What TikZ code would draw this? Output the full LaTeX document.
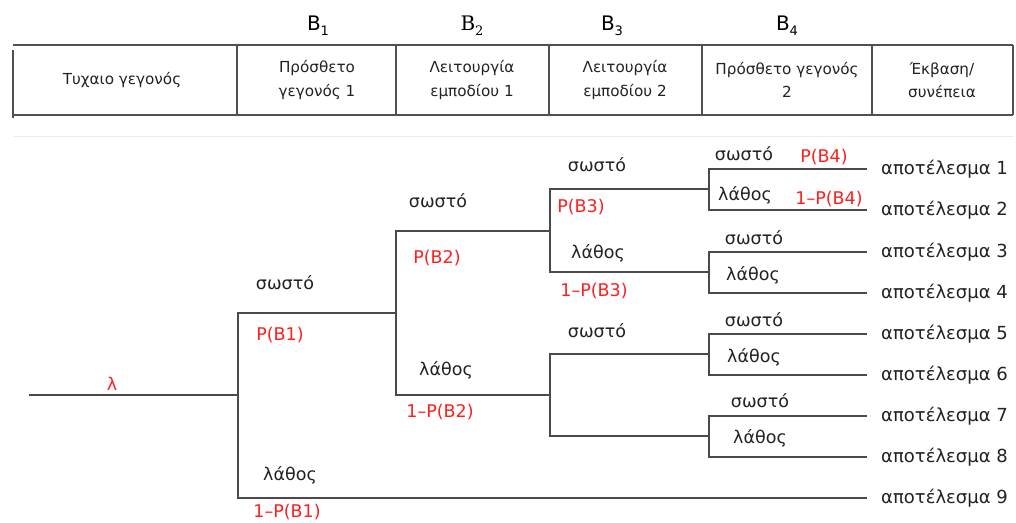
\documentclass[tikz,border=0pt]{standalone}
\usepackage{fontspec}
\setmainfont{DejaVu Sans}
\newfontfamily\serifB{DejaVu Serif}
\definecolor{lineg}{HTML}{4A4A4A}
\definecolor{tabg}{HTML}{505050}
\definecolor{probred}{HTML}{FF1E1E}
\definecolor{txt}{HTML}{222222}
\newcommand{\bsub}[1]{\raisebox{-0.45ex}{\fontsize{13}{13}\selectfont #1}}
\begin{document}
\begin{tikzpicture}[x=1pt,y=-1pt,
  branch/.style={draw=lineg,line width=1.8pt},
  tabline/.style={draw=tabg,line width=1.4pt},
  hdr/.style={font=\fontsize{15.2}{23.5}\selectfont,text=txt,align=center,inner sep=0pt},
  bhead/.style={font=\fontsize{20}{22}\selectfont,text=black,inner sep=0pt},
  state/.style={font=\fontsize{17.5}{20}\selectfont,text=txt,inner sep=0pt},
  prob/.style={font=\fontsize{17.5}{20}\selectfont,text=probred,inner sep=0pt},
  outcome/.style={font=\fontsize{18}{20}\selectfont,text=txt,anchor=west,inner xsep=14pt,inner ysep=0pt}]
\useasboundingbox (0,0) rectangle (1016,522);

% ---- header table ----
\draw[tabline] (13,45) -- (1013,45);
\draw[tabline] (13,115) -- (1013,115);
\draw[draw=tabg,line width=2pt] (13,50) -- (13,118);
\foreach \cx in {237,396,549,702,872,1013}
  \draw[tabline] (\cx,45) -- (\cx,115);
\draw[draw=black!8,line width=1pt] (13,136) -- (1013,136);

\node[bhead] (b1) at (318,26) {B\bsub{1}};
\node[bhead] (b2) at (472,26) {\serifB B\bsub{2}};
\node[bhead] (b3) at (612,26) {B\bsub{3}};
\node[bhead] (b4) at (787,26) {B\bsub{4}};

\node[hdr] (h1) at (122,80) {Τυχαιο γεγονός};
\node[hdr] (h2) at (317,80) {Πρόσθετο\\γεγονός 1};
\node[hdr] (h3) at (472,80) {Λειτουργία\\εμποδίου 1};
\node[hdr] (h4) at (625,80) {Λειτουργία\\εμποδίου 2};
\node[hdr] (h5) at (787,80) {Πρόσθετο γεγονός\\2};
\node[hdr] (h6) at (942,80) {Έκβαση/\\συνέπεια};

% ---- event tree junctions ----
\coordinate (s)  at (29,395);
\coordinate (j1) at (238,395);
\coordinate (j2) at (396,313);
\coordinate (j3a) at (550,231);
\coordinate (j3b) at (550,395);
\coordinate (j4a) at (709,189);
\coordinate (j4b) at (709,272);
\coordinate (j4c) at (709,354);
\coordinate (j4d) at (709,436);

% ---- outcomes ----
\node[outcome] (o1) at (867,169) {αποτέλεσμα 1};
\node[outcome] (o2) at (867,210) {αποτέλεσμα 2};
\node[outcome] (o3) at (867,252) {αποτέλεσμα 3};
\node[outcome] (o4) at (867,293) {αποτέλεσμα 4};
\node[outcome] (o5) at (867,334) {αποτέλεσμα 5};
\node[outcome] (o6) at (867,375) {αποτέλεσμα 6};
\node[outcome] (o7) at (867,416) {αποτέλεσμα 7};
\node[outcome] (o8) at (867,457) {αποτέλεσμα 8};
\node[outcome] (o9) at (867,498) {αποτέλεσμα 9};

% ---- branches ----
\draw[branch] (s) -- (j1);
\draw[branch] (j1) |- (j2);
\draw[branch] (j1) |- (o9.west);
\draw[branch] (j2) |- (j3a);
\draw[branch] (j2) |- (j3b);
\draw[branch] (j3a) |- (j4a);
\draw[branch] (j3a) |- (j4b);
\draw[branch] (j3b) |- (j4c);
\draw[branch] (j3b) |- (j4d);
\draw[branch] (j4a) |- (o1.west);
\draw[branch] (j4a) |- (o2.west);
\draw[branch] (j4b) |- (o3.west);
\draw[branch] (j4b) |- (o4.west);
\draw[branch] (j4c) |- (o5.west);
\draw[branch] (j4c) |- (o6.west);
\draw[branch] (j4d) |- (o7.west);
\draw[branch] (j4d) |- (o8.west);

% ---- branch labels ----
\node[prob] (lam) at (112,384) {λ};

\node[state] (s1) at (285,283) {σωστό};
\node[prob]  (p1) at (280,335) {P(B1)};
\node[state] (f1) at (290,475) {λάθος};
\node[prob]  (q1) at (287,512) {1–P(B1)};

\node[state] (s2) at (438,201) {σωστό};
\node[prob]  (p2) at (437,258) {P(B2)};
\node[state] (f2) at (446,370) {λάθος};
\node[prob]  (q2) at (440,412) {1–P(B2)};

\node[state] (s3) at (597,165) {σωστό};
\node[prob]  (p3) at (581,207) {P(B3)};
\node[state] (f3) at (598,253) {λάθος};
\node[prob]  (q3) at (594,291) {1–P(B3)};
\node[state] (s3b) at (597,331) {σωστό};

\node[state] (s4a) at (744,154) {σωστό};
\node[prob]  (p4)  at (824,157) {P(B4)};
\node[state] (f4a) at (745,195) {λάθος};
\node[prob]  (q4)  at (829,199) {1–P(B4)};
\node[state] (s4b) at (754,238) {σωστό};
\node[state] (f4b) at (753,275) {λάθος};
\node[state] (s4c) at (754,320) {σωστό};
\node[state] (f4c) at (754,357) {λάθος};
\node[state] (s4d) at (760,401) {σωστό};
\node[state] (f4d) at (760,438) {λάθος};
\end{tikzpicture}
\end{document}
